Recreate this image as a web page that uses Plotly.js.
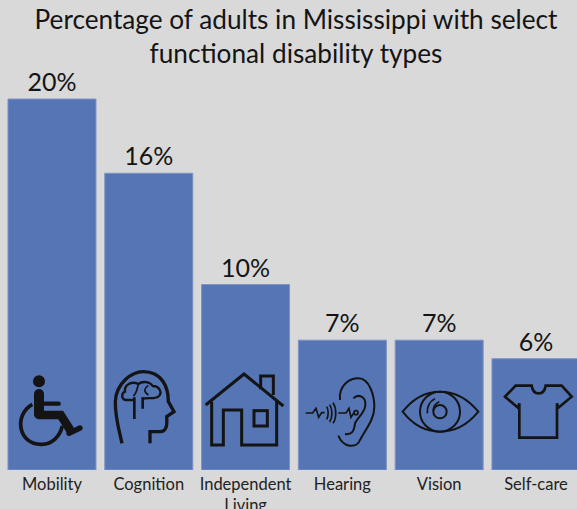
<!DOCTYPE html>
<html><head><meta charset="utf-8">
<script src="https://cdn.plot.ly/plotly-3.0.1.min.js"></script>
<style>html,body{margin:0;padding:0;background:#d9d9d9}#c{width:577px;height:509px}</style>
</head><body><div id="c"></div>
<script>
const categories = ["Mobility","Cognition","Independent Living","Hearing","Vision","Self-care"];
const tickLabels = ["Mobility","Cognition","Independent<br>Living","Hearing","Vision","Self-care"];
const percentages = [20,16,10,7,7,6];
const valueLabels = ["20%","16%","10%","7%","7%","6%"];

const W=577,H=509,BOTTOM=470;
const FONT="Lato, 'Open Sans', sans-serif";
function icon(ox,oy,x,y,w,h,stroke,body){
  const vb=[(x-ox)*3,(y-oy)*3,w*3,h*3].join(' ');
  const svg=`<svg xmlns="http://www.w3.org/2000/svg" width="${w*3}" height="${h*3}" viewBox="${vb}"><g fill="none" stroke="#141414" stroke-width="${stroke}" stroke-linecap="butt" stroke-linejoin="miter">${body}</g></svg>`;
  return {source:'data:image/svg+xml,'+encodeURIComponent(svg),xref:'paper',yref:'paper',
    x:x/W,y:1-y/BOTTOM,sizex:w/W,sizey:h/BOTTOM,xanchor:'left',yanchor:'top',sizing:'stretch',layer:'above'};
}
const images=[
 icon(0,360,12,370,80,85,10,`
  <circle cx="117" cy="64" r="18" fill="#141414" stroke="none"/>
  <path d="M117 102V163" stroke-width="30" stroke-linecap="round"/>
  <path d="M125 131H176" stroke-width="13" stroke-linecap="round"/>
  <path d="M117 165H182L215 217" stroke-width="26"/>
  <path d="M207 220L240 204" stroke-width="16" stroke-linecap="round"/>
  <path d="M97 133C40 165 55 255 125 253C158 252 180 228 187 198" stroke-width="11"/>`),
 icon(0,360,108,366,72,84,10,`
  <path d="M366 250C356 205 345 170 346 125C348 70 395 35 430 35C485 35 505 80 505 125L522 155L500 170C502 195 500 215 480 215H450V250"/>
  <path d="M403 112V177M428 112V146" stroke-width="8"/>
  <path d="M403 120H378C362 118 365 98 375 95C372 75 395 62 415 72C428 62 450 65 458 78C480 78 488 100 475 110C465 118 445 112 428 116" stroke-width="7"/>
  <path d="M415 72C412 85 410 100 400 108M445 76C432 85 430 95 445 105" stroke-width="5"/>`),
 icon(0,360,203,370,83,80,9,`
  <path d="M617 135L732 42L850 138" />
  <path d="M782 88V48H820V105"/>
  <path d="M635 125V255H670V150H725V255H830V122"/>
  <rect x="762" y="152" width="40" height="46"/>`),
 icon(290,340,303,375,75,75,6,`
  <path d="M150 180C145 135 180 115 205 115C240 115 253 170 253 200C253 240 225 270 210 300C200 325 160 325 145 287"/>
  <path d="M190 175C205 160 228 170 226 195C225 220 200 235 195 250C192 275 185 285 165 282"/>
  <path d="M47 219H68L78 205L86 232L95 218H104M110 200C116 210 116 228 110 238M119 194C128 208 128 232 119 246M129 188C140 205 140 235 129 250M145 219H168L177 205L183 232L192 218" stroke-width="5"/>
  <circle cx="198" cy="218" r="6" stroke-width="5"/>`),
 icon(290,340,398,385,82,60,6,`
  <path d="M338 215C400 135 500 135 565 215C500 295 400 295 338 215Z"/>
  <circle cx="450" cy="215" r="60"/>
  <circle cx="450" cy="215" r="20"/>
  <path d="M412 220C410 200 420 182 435 176M430 212C430 200 436 190 448 185" stroke-width="5"/>`),
 icon(290,340,500,380,82,65,8,`
  <path d="M677 137H725C730 168 762 168 767 137H815L845 170L805 203L801 190V293H688V190L684 203L645 170Z"/>`)
];
const data=[{type:'bar',x:categories,y:percentages,width:0.909,
  text:valueLabels,textposition:'outside',cliponaxis:false,
  textfont:{family:FONT,size:25,color:'#141414'},
  marker:{color:'#5575b5',line:{color:'#7e93c5',width:1}},hoverinfo:'skip'}];
const layout={width:W,height:H,margin:{l:0,r:0,t:0,b:H-BOTTOM,pad:0},
  paper_bgcolor:'#d9d9d9',plot_bgcolor:'#d9d9d9',showlegend:false,
  title:{text:"Percentage of adults in Mississippi with select<br>functional disability types",
    font:{family:FONT,size:26.2,color:'#141414'},x:0.513,xanchor:'center',y:0.944,yanchor:'top'},
  xaxis:{type:'category',categoryorder:'array',categoryarray:categories,tickmode:'array',tickvals:categories,ticktext:tickLabels,
    range:[-0.537,5.424],showgrid:false,zeroline:false,showline:false,ticks:'',ticklen:0,tickangle:0,ticklabelstandoff:2,
    tickfont:{family:FONT,size:16.5,color:'#222'}},
  yaxis:{range:[0,25.34],visible:false,showgrid:false,zeroline:false},
  images:images};
Plotly.newPlot('c',data,layout,{displayModeBar:false,staticPlot:true});
</script></body></html>
